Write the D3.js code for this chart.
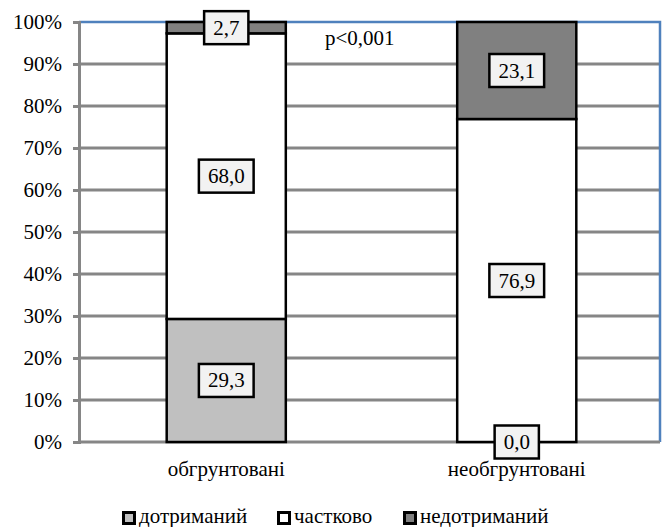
<!DOCTYPE html>
<html><head><meta charset="utf-8">
<script src="https://cdn.jsdelivr.net/npm/d3@7"></script>
<style>body{margin:0;background:#fff}svg{display:block}</style>
</head><body><svg id="c" width="663" height="527"></svg>
<script>
const categories = ["обгрунтовані", "необгрунтовані"];
const seriesNames = ["дотриманий", "частково", "недотриманий"];
const dotrymanyi = [29.3, 0.0];
const chastkovo = [68.0, 76.9];
const nedotrymanyi = [2.7, 23.1];
const yTicks = [0, 10, 20, 30, 40, 50, 60, 70, 80, 90, 100];
const colors = ["#c0c0c0", "#ffffff", "#808080"];
const note = "p<0,001";

const svg = d3.select("#c");
const W = 663, H = 527;
const m = {l: 79, r: 3, t: 22, b: 85};
const fs = 21;
function ser(sel) { return sel.style("font-family", "'Liberation Serif'").style("font-size", fs + "px").attr("fill", "#000"); }

const x = d3.scaleBand().domain(categories).range([m.l + 2, W - m.r + 2]).paddingInner(0.59).paddingOuter(0.295);
const y = d3.scaleLinear().domain([0, 100]).range([H - m.b, m.t]);

svg.append("g").selectAll("line").data(yTicks.filter(d => d > 0 && d < 100)).join("line")
  .attr("x1", m.l).attr("x2", W - m.r).attr("y1", d => y(d)).attr("y2", d => y(d))
  .attr("stroke", "#868686").attr("stroke-width", 3);
svg.append("path").attr("d", `M${m.l},${y(100)}H${W - m.r}V${y(0)}`)
  .attr("fill", "none").attr("stroke", "#4f81bd").attr("stroke-width", 2.5);

const yAxis = d3.axisLeft(y).tickValues(yTicks).tickFormat(d => d + "%").tickSize(6).tickPadding(11);
const gy = svg.append("g").attr("transform", `translate(${m.l},0)`).call(yAxis);
gy.attr("font-family", null);
gy.select(".domain").attr("stroke", "#868686").attr("stroke-width", 3);
gy.selectAll(".tick line").attr("stroke", "#868686").attr("stroke-width", 3);
ser(gy.selectAll(".tick text")).attr("dy", "0.33em");

svg.append("line").attr("x1", m.l).attr("x2", W - m.r).attr("y1", y(0)).attr("y2", y(0))
  .attr("stroke", "#868686").attr("stroke-width", 3);

const rows = categories.map((c, i) => ({cat: c, s0: dotrymanyi[i], s1: chastkovo[i], s2: nedotrymanyi[i]}));
const stack = d3.stack().keys(["s0", "s1", "s2"])(rows);
stack.forEach((layer, li) => {
  svg.append("g").selectAll("rect").data(layer).join("rect")
    .attr("x", d => x(d.data.cat)).attr("width", x.bandwidth())
    .attr("y", d => y(d[1])).attr("height", d => y(d[0]) - y(d[1]))
    .attr("fill", colors[li]).attr("stroke", "#000").attr("stroke-width", 2.5);
});
stack.forEach((layer) => {
  layer.forEach(d => {
    const cx = x(d.data.cat) + x.bandwidth() / 2;
    const cy = (y(d[0]) + y(d[1])) / 2;
    const g = svg.append("g");
    const t = ser(g.append("text")).attr("x", cx).attr("y", cy + 7).attr("text-anchor", "middle")
      .text(d3.format(".1f")(d[1] - d[0]).replace(".", ","));
    const bb = t.node().getBBox();
    g.insert("rect", "text").attr("x", cx - bb.width / 2 - 9).attr("y", cy - 16.5)
      .attr("width", bb.width + 18).attr("height", 33)
      .attr("fill", "#f2f2f2").attr("stroke", "#000").attr("stroke-width", 2.5);
  });
});

ser(svg.append("g").selectAll("text").data(categories).join("text"))
  .attr("x", d => x(d) + x.bandwidth() / 2).attr("y", 476).attr("text-anchor", "middle")
  .text(d => d);

ser(svg.append("text")).attr("x", 325).attr("y", 45).text(note);

const lx = [122, 277, 403];
const lg = svg.append("g");
seriesNames.forEach((n, i) => {
  lg.append("rect").attr("x", lx[i] + 1.5).attr("y", 512.5).attr("width", 11).attr("height", 11)
    .attr("fill", colors[i]).attr("stroke", "#000").attr("stroke-width", 3);
  ser(lg.append("text")).attr("x", lx[i] + 17).attr("y", 523).text(n);
});
</script></body></html>
